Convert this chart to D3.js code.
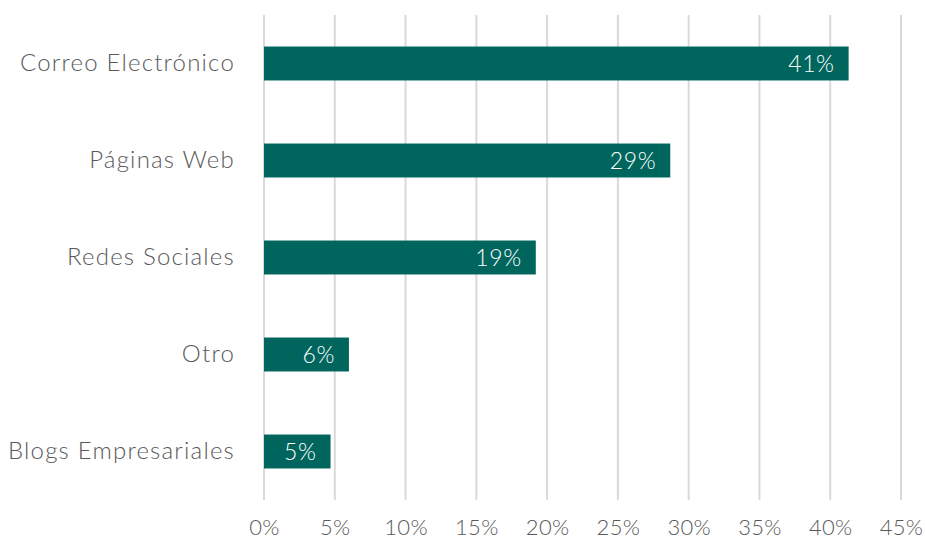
<!DOCTYPE html>
<html>
<head>
<meta charset="utf-8">
<script src="https://cdn.jsdelivr.net/npm/d3@7"></script>
<style>
  html, body { margin: 0; padding: 0; background: #fff; }
  svg text { font-family: "Lato", "Open Sans", sans-serif; font-weight: 300; }
</style>
</head>
<body>
<svg id="chart" width="925" height="541"></svg>
<script>
// Canales de comunicación (proporción de uso)
const categories = ["Correo Electrónico", "Páginas Web", "Redes Sociales", "Otro", "Blogs Empresariales"];
const values = [0.413, 0.287, 0.192, 0.060, 0.047];
const tickValues = [0, 0.05, 0.10, 0.15, 0.20, 0.25, 0.30, 0.35, 0.40, 0.45];

const svg = d3.select("#chart");
const margin = { top: 15, right: 24, bottom: 41, left: 264 };
const W = 925, H = 541;

const x = d3.scaleLinear()
  .domain([0, 0.45])
  .range([margin.left, W - margin.right]);

const y = d3.scaleBand()
  .domain(categories)
  .range([margin.top, H - margin.bottom])
  .paddingInner(0.65)
  .paddingOuter(0.325);

const pct = d3.format(".0%");

// vertical gridlines
svg.append("g")
  .selectAll("line")
  .data(tickValues)
  .join("line")
  .attr("x1", d => x(d)).attr("x2", d => x(d))
  .attr("y1", margin.top).attr("y2", H - margin.bottom)
  .attr("stroke", "#d9d9d9")
  .attr("stroke-width", 2);

// x axis labels
const xAxis = d3.axisBottom(x).tickValues(tickValues).tickFormat(pct).tickSize(0).tickPadding(19);
const gx = svg.append("g")
  .attr("transform", `translate(0,${H - margin.bottom})`)
  .call(xAxis);
gx.select(".domain").remove();
gx.selectAll("text")
  .attr("fill", "#595959")
  .style("font-size", "22px")
  .style("letter-spacing", "0.3px");

// y axis labels
const yAxis = d3.axisLeft(y).tickSize(0).tickPadding(29);
const gy = svg.append("g")
  .attr("transform", `translate(${margin.left},0)`)
  .call(yAxis);
gy.select(".domain").remove();
gy.selectAll("text")
  .attr("fill", "#595959")
  .style("font-size", "24px")
  .style("letter-spacing", "1.2px");

// bars
svg.append("g")
  .selectAll("rect")
  .data(categories)
  .join("rect")
  .attr("x", x(0))
  .attr("y", d => y(d))
  .attr("width", (d, i) => x(values[i]) - x(0))
  .attr("height", y.bandwidth())
  .attr("fill", "#00665d");

// value labels inside bar ends
svg.append("g")
  .selectAll("text")
  .data(categories)
  .join("text")
  .attr("x", (d, i) => x(values[i]) - 14)
  .attr("y", d => y(d) + y.bandwidth() / 2)
  .attr("dy", "0.36em")
  .attr("text-anchor", "end")
  .attr("fill", "#ffffff")
  .style("font-size", "23px")
  .style("letter-spacing", "0.6px")
  .text((d, i) => pct(values[i]));
</script>
</body>
</html>
